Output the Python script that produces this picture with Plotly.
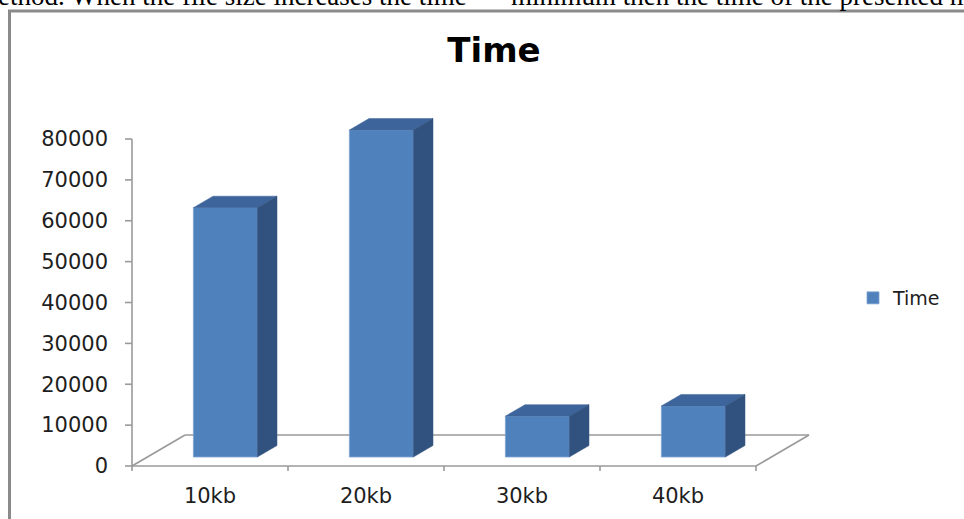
import plotly.graph_objects as go

# ---------------- data ----------------
categories = ["10kb", "20kb", "30kb", "40kb"]
time_values = [61000, 80000, 10000, 12500]
y_tick_values = [0, 10000, 20000, 30000, 40000, 50000, 60000, 70000, 80000]
y_tick_labels = ["0", "10000", "20000", "30000", "40000", "50000", "60000", "70000", "80000"]
series_name = "Time"
chart_title = "Time"
page_text_left = "ethod. When the file size increases the time"
page_text_right = "minimum then the time of the presented m"

# ---------------- style / geometry ----------------
W, H = 964, 519
L, R, T, B = 118, 820, 110, 480          # plot area pixel box
PX_PER_CAT = 156.0
X0_PIX = 132.0                            # pixel of x = -0.5
PX_PER_UNIT_Y = 40.875 / 10000.0
Y0_PIX = 466.0                            # pixel of y = 0

x_min = -0.5 - (X0_PIX - L) / PX_PER_CAT
x_max = -0.5 + (R - X0_PIX) / PX_PER_CAT
y_min = -(B - Y0_PIX) / PX_PER_UNIT_Y
y_max = (Y0_PIX - T) / PX_PER_UNIT_Y

FLOOR_DX = 0.34        # depth of the floor in category units
FLOOR_DY = 7584        # depth of the floor in value units
FRONT_FRAC, BACK_FRAC = 0.29, 0.66
BAR_W = 0.41

FRONT_COL = "#4F81BD"
TOP_COL = "#3E659B"
SIDE_COL = "#31527F"
EDGE_COL = "#9A9A9A"
TEXT_COL = "#1E1E1E"

n = len(categories)
pos = list(range(n))
shift_x = FRONT_FRAC * FLOOR_DX
base_y = FRONT_FRAC * FLOOR_DY
ddx = (BACK_FRAC - FRONT_FRAC) * FLOOR_DX
ddy = (BACK_FRAC - FRONT_FRAC) * FLOOR_DY

fig = go.Figure()

# front faces (real bars)
fig.add_trace(go.Bar(
    x=[p + shift_x for p in pos], y=time_values, base=base_y, width=BAR_W,
    name=series_name, marker=dict(color=FRONT_COL, line=dict(color="#7EA3D3", width=0.8)),
    showlegend=True, hoverinfo="skip",
))

# top and side faces
for p, v in zip(pos, time_values):
    xl = p + shift_x - BAR_W / 2
    xr = p + shift_x + BAR_W / 2
    yt = base_y + v
    fig.add_trace(go.Scatter(
        x=[xl, xr, xr + ddx, xl + ddx, xl], y=[yt, yt, yt + ddy, yt + ddy, yt],
        mode="lines", fill="toself", fillcolor=TOP_COL, line=dict(color=TOP_COL, width=0.5),
        showlegend=False, hoverinfo="skip"))
    fig.add_trace(go.Scatter(
        x=[xr, xr, xr + ddx, xr + ddx, xr], y=[base_y, yt, yt + ddy, base_y + ddy, base_y],
        mode="lines", fill="toself", fillcolor=SIDE_COL, line=dict(color=SIDE_COL, width=0.5),
        showlegend=False, hoverinfo="skip"))

shapes = []
def seg(x0, y0, x1, y1):
    shapes.append(dict(type="line", xref="x", yref="y", x0=x0, y0=y0, x1=x1, y1=y1,
                       line=dict(color=EDGE_COL, width=1.6), layer="below"))

lo, hi = -0.5, n - 0.5
# floor outline
seg(lo, 0, hi, 0)
seg(hi, 0, hi + FLOOR_DX, FLOOR_DY)
seg(hi + FLOOR_DX, FLOOR_DY, lo + FLOOR_DX, FLOOR_DY)
seg(lo + FLOOR_DX, FLOOR_DY, lo, 0)
# value axis line + ticks
seg(lo, 0, lo, y_tick_values[-1])
for v in y_tick_values:
    seg(lo - 7 / PX_PER_CAT, v, lo, v)
# category boundary ticks
for k in range(n + 1):
    seg(lo + k, 0, lo + k, -5 / PX_PER_UNIT_Y)

# outer frame of the embedded chart (paper coords)
def px2paper_x(px):
    return (px - L) / (R - L)
def px2paper_y(py):
    return (B - py) / (B - T)

shapes.append(dict(type="path", xref="paper", yref="paper",
                   path=f"M {px2paper_x(1000)},{px2paper_y(11)} L {px2paper_x(9.5)},{px2paper_y(11)} L {px2paper_x(9.5)},{px2paper_y(560)}",
                   line=dict(color="#8A8A8A", width=3), layer="above"))

annotations = [
    dict(text=page_text_left, xref="paper", yref="paper", x=px2paper_x(-4), y=px2paper_y(13),
         xanchor="left", yanchor="bottom", showarrow=False,
         font=dict(family="Liberation Serif", size=27, color="#000000")),
    dict(text=page_text_right, xref="paper", yref="paper", x=px2paper_x(509), y=px2paper_y(13),
         xanchor="left", yanchor="bottom", showarrow=False,
         font=dict(family="Liberation Serif", size=27, color="#000000")),
]

fig.update_layout(
    width=W, height=H, autosize=False,
    margin=dict(l=L, r=W - R, t=T, b=H - B, pad=0),
    paper_bgcolor="white", plot_bgcolor="white",
    title=dict(text=f"<b>{chart_title}</b>", x=494 / W, xref="container", xanchor="center",
               y=1 - 50.5 / H, yref="container", yanchor="middle",
               font=dict(family="DejaVu Sans", size=34, color="#000000")),
    xaxis=dict(range=[x_min, x_max], tickvals=pos, ticktext=categories, showline=False,
               showgrid=False, zeroline=False, ticks="", ticklabelstandoff=1, automargin=False,
               tickfont=dict(family="DejaVu Sans", size=21, color=TEXT_COL)),
    yaxis=dict(range=[y_min, y_max], tickvals=y_tick_values, ticktext=y_tick_labels,
               showline=False, showgrid=False,
               zeroline=False, ticks="", ticklabelstandoff=9, automargin=False,
               tickfont=dict(family="DejaVu Sans", size=21, color=TEXT_COL)),
    legend=dict(x=px2paper_x(853), y=px2paper_y(298), xanchor="left", yanchor="middle",
                xref="paper", yref="paper", bgcolor="rgba(0,0,0,0)",
                font=dict(family="DejaVu Sans", size=19, color=TEXT_COL)),
    shapes=shapes, annotations=annotations,
)

fig.write_html("out.html")
